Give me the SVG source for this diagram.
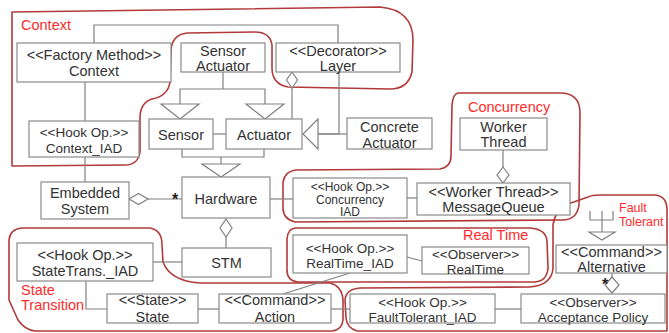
<svg xmlns="http://www.w3.org/2000/svg" width="669" height="333" viewBox="0 0 669 333">
  <style>
    .box { fill: #ffffff; stroke: #8a8a8a; stroke-width: 1.2; }
    .t { font-family: "Liberation Sans", Arial, sans-serif; font-size: 14.5px; fill: #333333; text-anchor: middle; }
    .tm { font-family: "Liberation Sans", Arial, sans-serif; font-size: 13.5px; fill: #333333; text-anchor: middle; }
    .ts { font-family: "Liberation Sans", Arial, sans-serif; font-size: 12px; fill: #333333; text-anchor: middle; }
    .star { font-family: "Liberation Sans", Arial, sans-serif; font-size: 16px; font-weight: bold; fill: #222222; text-anchor: middle; }
    .ln { fill: none; stroke: #808080; stroke-width: 1.2; }
    .hollow { fill: #ffffff; stroke: #808080; stroke-width: 1.2; }
    .region { fill: none; stroke: #b13a3a; stroke-width: 1.6; stroke-linejoin: round; }
    .lbl { font-family: "Liberation Sans", Arial, sans-serif; font-size: 14.5px; fill: #ff2a2a; }
    .lbls { font-family: "Liberation Sans", Arial, sans-serif; font-size: 12.5px; fill: #ff2a2a; }
  </style>

  <!-- pattern regions -->
  <g id="regions">
    <path class="region" d="M 12,12 L 380,7 Q 413,10 413,40 L 412,72 Q 408,89 390,89 L 288,87 Q 272,84 272,68 L 272,45 Q 270,32 255,32 L 187,33 Q 171,35 171,52 L 170,82 Q 168,96 152,99 Q 140,103 140,118 L 140,152 Q 138,165 125,165 L 12,166 Z"/>
    <path class="region" d="M 458,93 L 562,93 Q 580,94 580,113 L 579,205 Q 577,220 562,220 L 295,222 Q 283,219 283,208 L 283,182 Q 285,171 296,170 L 440,169 Q 451,167 451,156 L 452,105 Q 453,94 458,93 Z"/>
    <path class="region" d="M 296,228 L 530,228 Q 546,229 547,241 L 548,268 Q 547,281 535,282 L 298,282 Q 287,281 287,270 L 287,239 Q 288,228 296,228 Z"/>
    <path class="region" d="M 22,228 L 150,228 Q 162,230 162,245 L 163,262 Q 170,281 200,283 L 330,283 Q 342,286 343,300 L 343,320 Q 342,330 332,331 L 35,331 Q 25,330 18,320 L 9,300 L 9,240 Q 10,229 22,228 Z"/>
    <path class="region" d="M 360,288 L 530,287 Q 552,285 553,268 L 553,225 Q 555,210 568,204 L 588,197 Q 592,195 600,195 L 655,195 Q 667,196 667,210 L 667,331 L 357,331 Q 347,328 346,318 L 345,300 Q 346,289 360,288 Z"/>
    <text class="lbl" x="21" y="30">Context</text>
    <text class="lbl" x="468" y="112">Concurrency</text>
    <text class="lbl" x="463" y="240">Real Time</text>
    <text class="lbl" x="21" y="295">State</text>
    <text class="lbl" x="21" y="310">Transition</text>
    <text class="lbls" x="619" y="212">Fault</text>
    <text class="lbls" x="619" y="226">Tolerant</text>
  </g>

  <!-- connectors -->
  <g id="connectors">
    <!-- Factory Method to Decorator -->
    <polyline class="ln" points="94,43 94,25 338,25 338,43"/>
    <line class="ln" x1="85" y1="82" x2="85" y2="121"/>
    <line class="ln" x1="85" y1="157" x2="85" y2="182"/>
    <!-- Sensor/Actuator generalization -->
    <polyline class="ln" points="223,72 223,89"/>
    <polyline class="ln" points="180,104 180,89 265,89 265,104"/>
    <polygon class="hollow" points="161,104 199,104 180,119"/>
    <polygon class="hollow" points="246,104 284,104 265,119"/>
    <line class="ln" x1="213" y1="134" x2="226" y2="134"/>
    <!-- Layer aggregates Actuator -->
    <line class="ln" x1="292" y1="88" x2="292" y2="119"/>
    <polygon class="hollow" points="292,72 297.5,80 292,88 286.5,80"/>
    <!-- Concrete Actuator realization -->
    <polyline class="ln" points="339,72 339,134 318,134"/>
    <line class="ln" x1="318" y1="134" x2="347" y2="134"/>
    <polygon class="hollow" points="318,119 318,149 303,134"/>
    <!-- Sensor/Actuator to Hardware -->
    <polyline class="ln" points="182,149 182,157 264,157 264,149"/>
    <line class="ln" x1="221" y1="157" x2="221" y2="164"/>
    <polygon class="hollow" points="202,164 240,164 221,177"/>
    <!-- Embedded System aggregates Hardware -->
    <line class="ln" x1="148" y1="199" x2="182" y2="199"/>
    <polygon class="hollow" points="129,199 138.5,193.5 148,199 138.5,204.5"/>
    <text class="star" x="175" y="205">*</text>
    <line class="ln" x1="270" y1="199" x2="293" y2="199"/>
    <line class="ln" x1="407" y1="198" x2="417" y2="198"/>
    <!-- Worker Thread aggregates MessageQueue -->
    <line class="ln" x1="503" y1="150" x2="503" y2="167"/>
    <polygon class="hollow" points="503,167 509,175 503,183 497,175"/>
    <!-- Hardware to STM -->
    <polygon class="hollow" points="226,219 232,228 226,237 220,228"/>
    <line class="ln" x1="226" y1="237" x2="226" y2="248"/>
    <line class="ln" x1="153" y1="262" x2="182" y2="262"/>
    <polyline class="ln" points="86,281 86,309 107,309"/>
    <line class="ln" x1="198" y1="309" x2="219" y2="309"/>
    <line class="ln" x1="283" y1="294" x2="350" y2="273"/>
    <line class="ln" x1="407" y1="257" x2="422" y2="261"/>
    <line class="ln" x1="331" y1="309" x2="350" y2="309"/>
    <line class="ln" x1="495" y1="309" x2="521" y2="309"/>
    <!-- Alternative / Acceptance Policy -->
    <line class="ln" x1="612" y1="273" x2="612" y2="277"/>
    <polygon class="hollow" points="612,277 619,285 612,293 605,285"/>
    <text class="star" x="605" y="290">*</text>
    <!-- fork into Alternative -->
    <polyline class="ln" points="590,211 590,220 613,220 613,211"/>
    <line class="ln" x1="602" y1="211" x2="602" y2="232"/>
    <polygon class="hollow" points="589,232 615,232 602,240"/>
  </g>

  <!-- nodes -->
  <g id="factory-context">
    <rect class="box" x="17" y="43" width="154" height="39"/>
    <text class="t" x="94" y="60">&lt;&lt;Factory Method&gt;&gt;</text>
    <text class="t" x="94" y="76">Context</text>
  </g>
  <g id="sensor-actuator">
    <rect class="box" x="181" y="43" width="84" height="29"/>
    <text class="t" x="223" y="56">Sensor</text>
    <text class="t" x="223" y="71">Actuator</text>
  </g>
  <g id="decorator-layer">
    <rect class="box" x="276" y="43" width="124" height="29"/>
    <text class="t" x="338" y="56">&lt;&lt;Decorator&gt;&gt;</text>
    <text class="t" x="338" y="71">Layer</text>
  </g>
  <g id="context-iad">
    <rect class="box" x="29" y="121" width="110" height="36"/>
    <text class="tm" x="84" y="137">&lt;&lt;Hook Op.&gt;&gt;</text>
    <text class="tm" x="84" y="152.5">Context_IAD</text>
  </g>
  <g id="sensor">
    <rect class="box" x="149" y="119" width="64" height="30"/>
    <text class="t" x="181" y="140">Sensor</text>
  </g>
  <g id="actuator">
    <rect class="box" x="226" y="119" width="76" height="30"/>
    <text class="t" x="264" y="140">Actuator</text>
  </g>
  <g id="concrete-actuator">
    <rect class="box" x="347" y="118" width="85" height="31"/>
    <text class="t" x="389.5" y="132">Concrete</text>
    <text class="t" x="389.5" y="148">Actuator</text>
  </g>
  <g id="worker-thread">
    <rect class="box" x="460" y="118" width="87" height="32"/>
    <text class="t" x="503.5" y="132">Worker</text>
    <text class="t" x="503.5" y="147">Thread</text>
  </g>
  <g id="embedded-system">
    <rect class="box" x="41" y="182" width="88" height="37"/>
    <text class="t" x="85" y="198">Embedded</text>
    <text class="t" x="85" y="214">System</text>
  </g>
  <g id="hardware">
    <rect class="box" x="182" y="177" width="88" height="41"/>
    <text class="t" x="226" y="204">Hardware</text>
  </g>
  <g id="concurrency-iad">
    <rect class="box" x="293" y="178" width="114" height="40"/>
    <text class="ts" x="350" y="191">&lt;&lt;Hook Op.&gt;&gt;</text>
    <text class="ts" x="350" y="203.5">Concurrency</text>
    <text class="ts" x="350" y="216">IAD</text>
  </g>
  <g id="message-queue">
    <rect class="box" x="417" y="183" width="153" height="32"/>
    <text class="t" x="493.5" y="197">&lt;&lt;Worker Thread&gt;&gt;</text>
    <text class="t" x="493.5" y="212">MessageQueue</text>
  </g>
  <g id="statetrans-iad">
    <rect class="box" x="17" y="243" width="136" height="38"/>
    <text class="t" x="85" y="260">&lt;&lt;Hook Op.&gt;&gt;</text>
    <text class="t" x="85" y="276">StateTrans._IAD</text>
  </g>
  <g id="stm">
    <rect class="box" x="182" y="248" width="89" height="29"/>
    <text class="t" x="226.5" y="268">STM</text>
  </g>
  <g id="realtime-iad">
    <rect class="box" x="293" y="235" width="114" height="38"/>
    <text class="tm" x="350" y="252.5">&lt;&lt;Hook Op.&gt;&gt;</text>
    <text class="tm" x="350" y="268">RealTime_IAD</text>
  </g>
  <g id="observer-realtime">
    <rect class="box" x="422" y="247" width="107" height="27"/>
    <text class="tm" x="475.5" y="258.5">&lt;&lt;Observer&gt;&gt;</text>
    <text class="tm" x="475.5" y="273.5">RealTime</text>
  </g>
  <g id="command-alternative">
    <rect class="box" x="556" y="245" width="111" height="28"/>
    <text class="t" x="611.5" y="257">&lt;&lt;Command&gt;&gt;</text>
    <text class="t" x="611.5" y="272">Alternative</text>
  </g>
  <g id="state">
    <rect class="box" x="107" y="294" width="91" height="29"/>
    <text class="t" x="152.5" y="305">&lt;&lt;State&gt;&gt;</text>
    <text class="t" x="152.5" y="322">State</text>
  </g>
  <g id="command-action">
    <rect class="box" x="219" y="294" width="112" height="29"/>
    <text class="t" x="275" y="305">&lt;&lt;Command&gt;&gt;</text>
    <text class="t" x="275" y="322">Action</text>
  </g>
  <g id="faulttolerant-iad">
    <rect class="box" x="350" y="294" width="145" height="29"/>
    <text class="tm" x="422.5" y="306.5">&lt;&lt;Hook Op.&gt;&gt;</text>
    <text class="tm" x="422.5" y="321.5">FaultTolerant_IAD</text>
  </g>
  <g id="acceptance-policy">
    <rect class="box" x="521" y="294" width="144" height="29"/>
    <text class="tm" x="593" y="306.5">&lt;&lt;Observer&gt;&gt;</text>
    <text class="tm" x="593" y="321.5">Acceptance Policy</text>
  </g>
</svg>
